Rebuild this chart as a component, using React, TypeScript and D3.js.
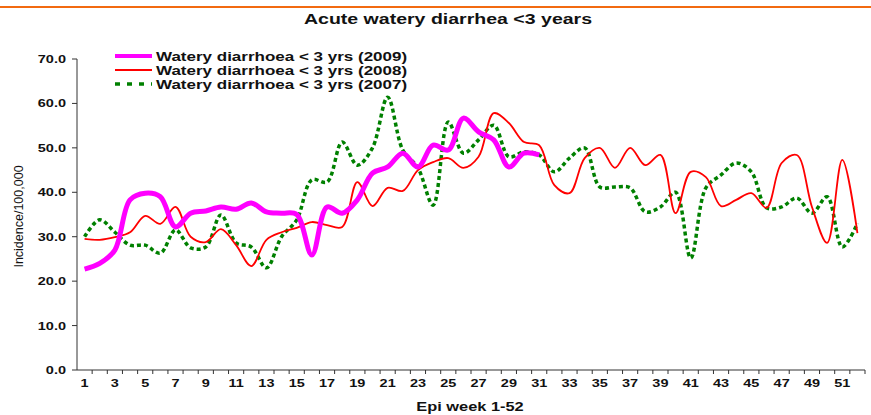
import React from 'react';
import * as d3 from 'd3';

// epi weeks 1-52
const weeks = d3.range(1, 53);
const tickWeeks = weeks.filter(w => w % 2 === 1);
const yTicks = [0, 10, 20, 30, 40, 50, 60, 70];

// incidence / 100,000
const y2009 = [22.7, 24.0, 27.0, 38.3, 39.8, 39.0, 32.2, 35.3, 35.8, 36.7,
  36.2, 37.6, 35.6, 35.3, 35.0, 25.9, 36.7, 35.3, 38.3, 44.3,
  45.7, 48.8, 45.7, 50.6, 49.5, 56.7, 53.6, 51.8, 45.7, 48.8, 48.4];

const y2008 = [29.5, 29.3, 29.9, 31.0, 34.7, 32.9, 36.7, 30.0, 28.8, 31.7,
  28.1, 23.4, 29.3, 31.0, 32.0, 33.3, 32.6, 32.2, 42.3, 36.9,
  41.0, 40.3, 45.0, 46.8, 47.7, 45.5, 48.0, 57.8, 55.6, 51.3,
  50.6, 41.6, 39.8, 47.7, 50.0, 45.5, 50.0, 46.1, 48.4, 35.3,
  44.6, 43.4, 36.9, 38.3, 39.8, 36.5, 46.6, 48.4, 36.7, 28.6,
  47.3, 30.8];

const y2007 = [30.0, 33.8, 31.0, 28.1, 28.1, 26.3, 31.5, 27.5, 27.7, 34.9,
  28.6, 27.7, 23.0, 30.0, 33.8, 42.8, 42.3, 51.3, 46.1, 50.0,
  61.4, 49.5, 45.5, 37.1, 55.8, 48.8, 51.8, 55.1, 48.0, 49.1,
  48.4, 44.6, 47.7, 50.0, 41.2, 41.2, 41.0, 35.6, 36.7, 40.0,
  25.2, 41.0, 43.9, 46.6, 44.6, 36.5, 36.7, 38.7, 35.3, 39.0,
  27.7, 33.0];

const series = [
  { name: 'Watery diarrhoea < 3 yrs (2009)', values: y2009, color: '#ff00ff', width: 5, dash: '' },
  { name: 'Watery diarrhoea < 3 yrs (2008)', values: y2008, color: '#ff0000', width: 1.8, dash: '' },
  { name: 'Watery diarrhoea < 3 yrs (2007)', values: y2007, color: '#008000', width: 3.5, dash: '4,3' },
];

const W = 871, H = 415;
const left = 77, right = 865, top = 59, bottom = 370;
const font = 'Arial, "Liberation Sans", sans-serif';
// the original picture is stretched sideways, so text is too
const SX = 1.26;

// text drawn at (x,y) and widened by SX
const Txt = ({ x, y, anchor = 'start', size, bold = true, children }: any) => (
  <g transform={`translate(${x},${y}) scale(${SX},1)`}>
    <text textAnchor={anchor} dy="0.35em" fontSize={size} fontWeight={bold ? 'bold' : 'normal'} fill="#111">
      {children}
    </text>
  </g>
);

export default function App() {
  const x = d3.scaleBand<number>().domain(weeks).range([left, right]);
  const y = d3.scaleLinear().domain([0, 70]).range([bottom, top]);
  const cx = (w: number) => (x(w) as number) + x.bandwidth() / 2;

  const line = d3.line<number>()
    .x((d, i) => cx(weeks[i]))
    .y(d => y(d))
    .curve(d3.curveCatmullRom.alpha(0.5));

  return (
    <svg width={W} height={H} style={{ position: 'absolute', left: 0, top: 0 }} fontFamily={font}>
      <rect width={W} height={H} fill="#fff" />
      <line x1={0} x2={W} y1={7} y2={7} stroke="#f26a10" strokeWidth={2} />
      <Txt x={448} y={19} anchor="middle" size={15.5}>Acute watery diarrhea &lt;3 years</Txt>

      {/* y axis */}
      <line x1={left} x2={left} y1={top} y2={bottom} stroke="#333" />
      {yTicks.map(t => (
        <g key={t}>
          <line x1={left - 5} x2={left} y1={y(t)} y2={y(t)} stroke="#333" />
          <Txt x={left - 11} y={y(t)} anchor="end" size={11.5}>{t.toFixed(1)}</Txt>
        </g>
      ))}
      <text transform={`translate(23,${(top + bottom) / 2 + 2}) rotate(-90)`} textAnchor="middle" fontSize={12.5} fill="#111">
        Incidence/100,000
      </text>

      {/* x axis */}
      <line x1={left} x2={right} y1={bottom} y2={bottom} stroke="#333" />
      {weeks.map(w => (
        <line key={w} x1={(x(w) as number) + x.bandwidth()} x2={(x(w) as number) + x.bandwidth()}
          y1={bottom} y2={bottom + 4} stroke="#333" />
      ))}
      {tickWeeks.map(w => (
        <Txt key={w} x={cx(w)} y={bottom + 13} anchor="middle" size={11.5}>{w}</Txt>
      ))}
      <Txt x={470} y={406} anchor="middle" size={13}>Epi week 1-52</Txt>

      {/* lines, 2007 drawn first so 2009 is on top */}
      {[...series].reverse().map(s => (
        <path key={s.name} d={line(s.values) || ''} fill="none" stroke={s.color}
          strokeWidth={s.width} strokeDasharray={s.dash} />
      ))}

      {/* legend */}
      {series.map((s, i) => (
        <g key={s.name} transform={`translate(115,${56 + i * 14})`}>
          <line x1={0} x2={37} y1={0} y2={0} stroke={s.color} strokeWidth={Math.min(s.width, 4)}
            strokeDasharray={s.dash ? '5,7' : ''} />
          <Txt x={41} y={0} size={13.5}>{s.name}</Txt>
        </g>
      ))}
    </svg>
  );
}
